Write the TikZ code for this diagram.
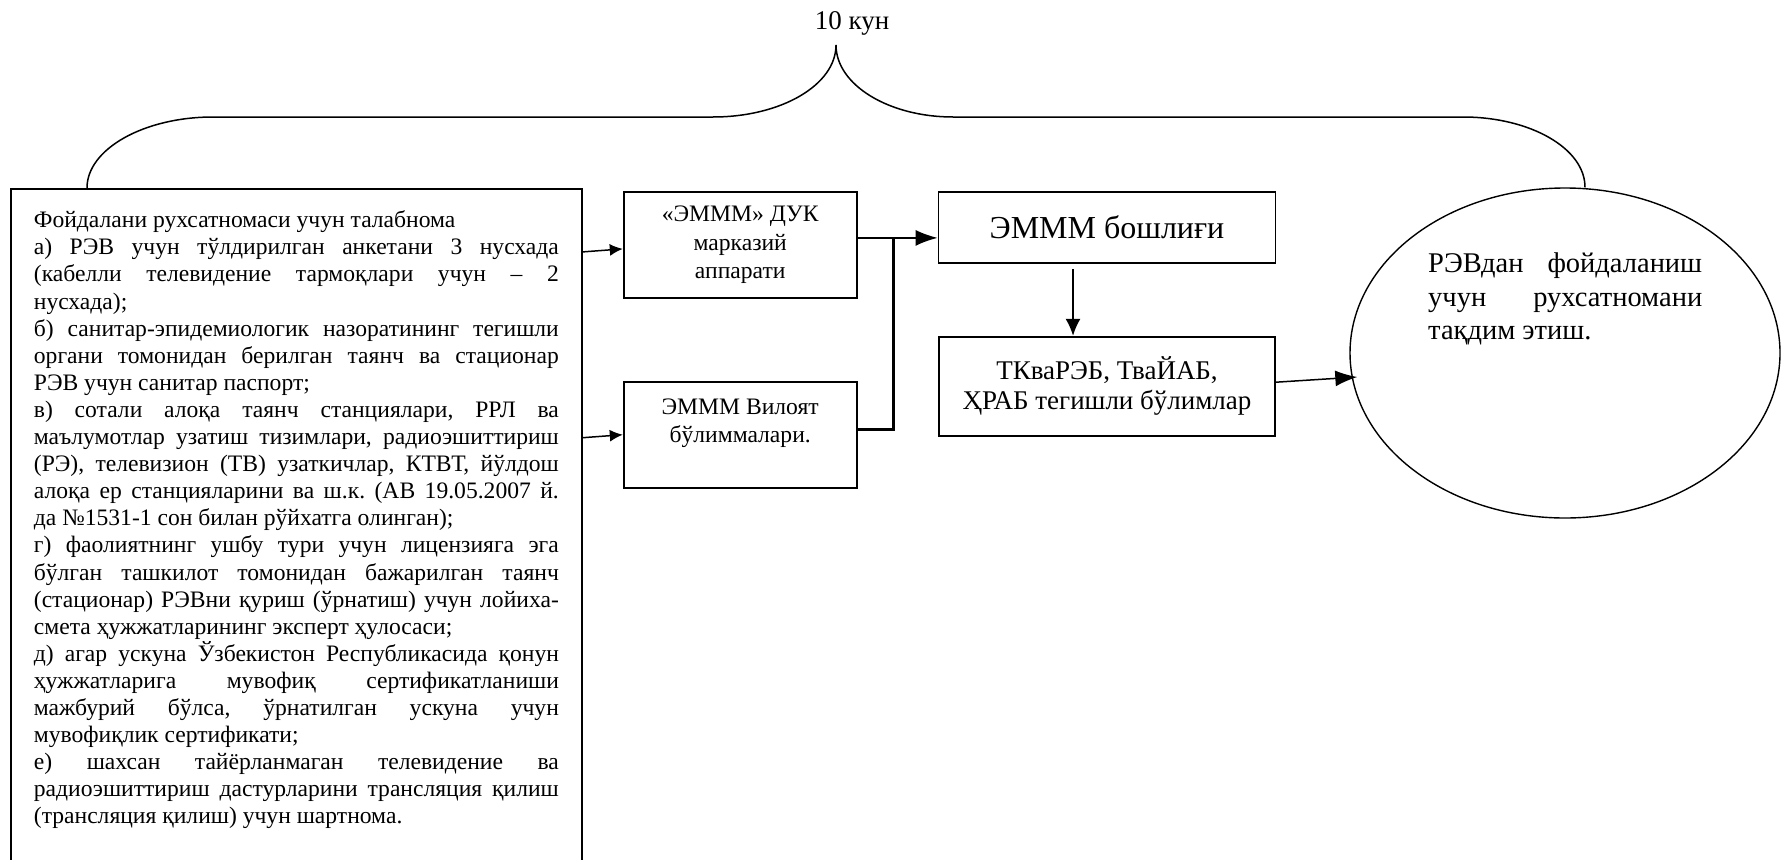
\documentclass[tikz,border=0pt]{standalone}
\usepackage{fontspec}
\setmainfont{Liberation Serif}
\usepackage{tikz}
\usetikzlibrary{positioning,shapes.geometric,arrows.meta,calc}
\setlength{\parindent}{0pt}
\frenchspacing
\tolerance=10000
\hyphenpenalty=10000
\exhyphenpenalty=10000

\newcommand{\mainsize}{\fontsize{23.6}{27.1}\selectfont}
\newcommand{\boxsize}{\fontsize{23.6}{28.5}\selectfont}
\newcommand{\midsize}{\fontsize{27}{30}\selectfont}
\newcommand{\bigsize}{\fontsize{28.5}{33.5}\selectfont}
\newcommand{\headsize}{\fontsize{32}{36}\selectfont}

\begin{document}
\begin{tikzpicture}[auto, node distance=1cm, x=1pt, y=-1pt,
    >={Latex[length=13pt,width=12pt]},
    box/.style={draw, line width=1.8pt, align=center, inner sep=2pt},
    link/.style={line width=1.5pt},
    bighead/.style={-{Latex[length=22pt,width=16pt]}},
    midhead/.style={-{Latex[length=17pt,width=15pt]}}]
    \useasboundingbox (0,0) rectangle (1782,859);

    % Request
    \node [draw,
        line width=1.8pt,
        anchor=north west,
        text width=525pt,
        inner xsep=23pt,
        inner ysep=22pt,
        align=justify,
        font=\mainsize
    ] (Request) at (10,188) {Фойдалани рухсатномаси учун талабнома\par
        а) РЭВ учун тўлдирилган анкетани 3 нусхада\linebreak
        (кабелли телевидение тармоқлари учун – 2\linebreak
        нусхада);\par
        б) санитар-эпидемиологик назоратининг тегишли\linebreak
        органи томонидан берилган таянч ва стационар\linebreak
        РЭВ учун санитар паспорт;\par
        в) сотали алоқа таянч станциялари, РРЛ ва\linebreak
        маълумотлар узатиш тизимлари, радиоэшиттириш\linebreak
        (РЭ), телевизион (ТВ) узаткичлар, КТВТ, йўлдош\linebreak
        алоқа ер станцияларини ва ш.к. (АВ 19.05.2007 й.\linebreak
        да №1531-1 сон билан рўйхатга олинган);\par
        г) фаолиятнинг ушбу тури учун лицензияга эга\linebreak
        бўлган ташкилот томонидан бажарилган таянч\linebreak
        (стационар) РЭВни қуриш (ўрнатиш) учун лойиха-\linebreak
        смета ҳужжатларининг эксперт ҳулосаси;\par
        д) агар ускуна Ўзбекистон Республикасида қонун\linebreak
        ҳужжатларига мувофиқ сертификатланиши\linebreak
        мажбурий бўлса, ўрнатилган ускуна учун\linebreak
        мувофиқлик сертификати;\par
        е) шахсан тайёрланмаган телевидение ва\linebreak
        радиоэшиттириш дастурларини трансляция қилиш\linebreak
        (трансляция қилиш) учун шартнома.\par
        \mbox{}\par\mbox{}};

    % Offices
    \node [box,
        minimum width=233pt,
        minimum height=106pt,
        font=\boxsize,
        below right=3pt and 40pt of Request.north east
    ] (Central) {«ЭМММ» ДУК\\марказий\\аппарати};
    \node [box,
        minimum width=233pt,
        minimum height=106pt,
        font=\boxsize,
        below=82pt of Central
    ] (Regional) {ЭМММ Вилоят\\бўлиммалари.\\\mbox{}};

    % Head and departments
    \node [box,
        minimum width=337pt,
        minimum height=71pt,
        font=\headsize,
        below right=0pt and 80pt of Central.north east
    ] (Head) {ЭМММ бошлиғи};
    \node [box,
        minimum width=336pt,
        minimum height=99pt,
        font=\midsize,
        below=72pt of Head
    ] (Departments) {ТКваРЭБ, ТваЙАБ,\\ҲРАБ тегишли бўлимлар};

    % Permit
    \node [draw,
        ellipse,
        line width=1.4pt,
        minimum width=430pt,
        minimum height=330pt,
        inner sep=0pt
    ] (Permit) at (1565,353) {};
    \node [text width=274pt,
        align=justify,
        font=\bigsize,
        inner sep=0pt,
        anchor=north west
    ] (PermitText) at (1428,253) {РЭВдан фойдаланиш\linebreak
        учун рухсатномани\linebreak
        тақдим этиш.};

    % Brace
    \coordinate (BraceTip) at (836,45);
    \draw [link] ([xshift=77pt]Request.north west)
        .. controls +(0,-39) and +(-69,0) .. (213,117)
        -- (713,117)
        .. controls +(68,0) and +(0,40) .. (BraceTip)
        .. controls +(0,40) and +(-64,0) .. (953,117)
        -- (1463,117)
        .. controls +(67,0) and +(0,-39) .. ([xshift=20pt]Permit.north);
    \node [font=\midsize, anchor=base] (Duration) at (852,30) {10 кун};

    % Arrows
    \draw [link, ->] ($(Request.east |- Central.west)+(0,7)$) -- ($(Central.west)+(0,4)$);
    \draw [link, ->] ($(Request.east |- Regional.west)+(0,3)$) -- (Regional.west);
    \coordinate (Merge) at ($(Central.east)+(36,-7)$);
    \draw [link, bighead] (Central.east |- Merge) -- (Head.west |- Merge);
    \draw [line width=2.6pt] ($(Regional.east)+(0,-5)$) -| (Merge);
    \coordinate (DownStart) at ($(Head.south)+(-34,5)$);
    \draw [link, midhead] (DownStart) -- (DownStart |- Departments.north);
    \draw [link, bighead] ($(Departments.east)+(0,-4)$) -- ($(Permit.west)+(8,24)$);
\end{tikzpicture}
\end{document}
